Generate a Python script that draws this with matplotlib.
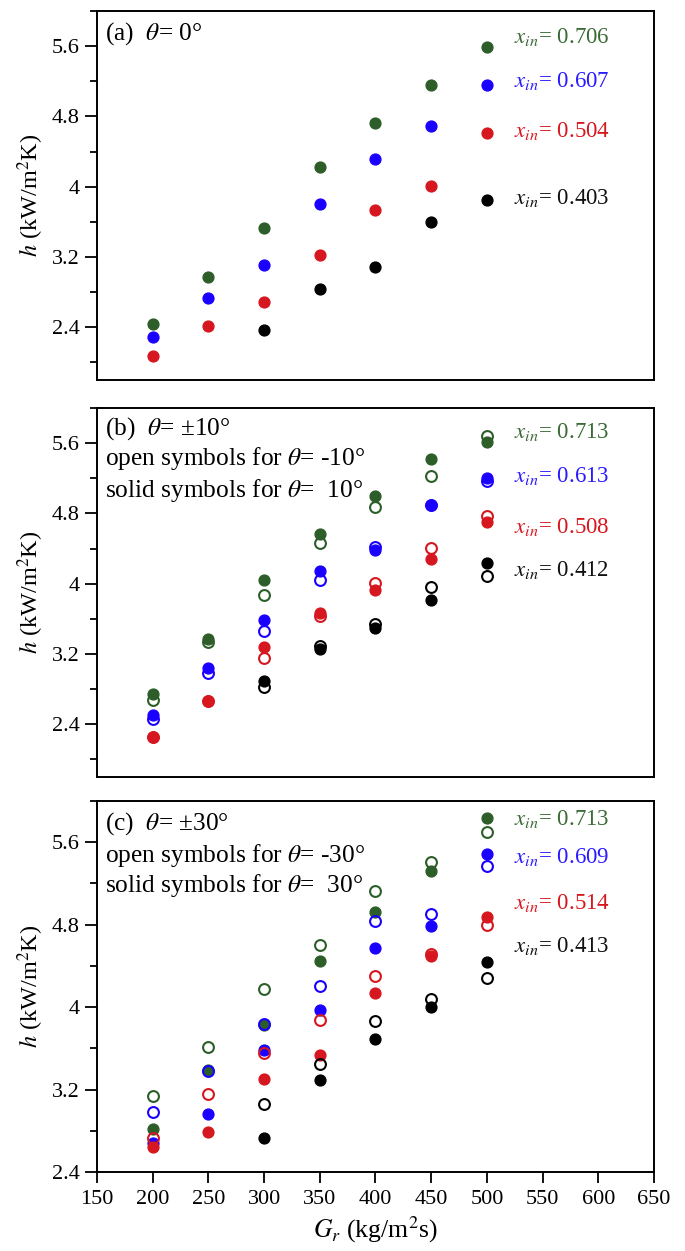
import numpy as np
import matplotlib
matplotlib.use('Agg')
import matplotlib.pyplot as plt
from matplotlib.ticker import MultipleLocator, FixedLocator, FixedFormatter

plt.rcParams['font.family'] = ['Liberation Serif', 'DejaVu Serif']
plt.rcParams['mathtext.fontset'] = 'stix'

nan = np.nan
G = [200, 250, 300, 350, 400, 450, 500]

# panel (a): theta = 0
a_h_0706 = [2.44, 2.97, 3.53, 4.22, 4.73, 5.16, 5.59]
a_h_0607 = [2.29, 2.73, 3.11, 3.80, 4.32, 4.69, 5.16]
a_h_0504 = [2.07, 2.42, 2.69, 3.22, 3.73, 4.01, 4.61]
a_h_0403 = [nan, nan, 2.37, 2.84, 3.09, 3.60, 3.85]

# panel (b): solid = +10 deg, open = -10 deg
b_solid_0713 = [2.75, 3.37, 4.04, 4.57, 5.00, 5.42, 5.61]
b_open_0713 = [2.68, 3.34, 3.87, 4.46, 4.87, 5.23, 5.68]
b_solid_0613 = [2.51, 3.04, 3.59, 4.15, 4.38, 4.89, 5.20]
b_open_0613 = [2.46, 2.98, 3.46, 4.04, 4.42, 4.90, 5.17]
b_solid_0508 = [2.25, 2.67, 3.28, 3.67, 3.93, 4.28, 4.70]
b_open_0508 = [2.26, 2.67, 3.15, 3.63, 4.01, 4.41, 4.77]
b_solid_0412 = [nan, nan, 2.89, 3.26, 3.49, 3.81, 4.24]
b_open_0412 = [nan, nan, 2.82, 3.29, 3.54, 3.96, 4.09]

# panel (c): solid = +30 deg, open = -30 deg
c_solid_0713 = [2.82, 3.39, 3.83, 4.45, 4.92, 5.32, 5.84]
c_open_0713 = [3.14, 3.61, 4.18, 4.60, 5.13, 5.41, 5.70]
c_solid_0609 = [2.68, 2.96, 3.58, 3.97, 4.57, 4.79, 5.49]
c_open_0609 = [2.98, 3.38, 3.84, 4.21, 4.84, 4.90, 5.37]
c_solid_0514 = [2.64, 2.79, 3.30, 3.54, 4.14, 4.50, 4.87]
c_open_0514 = [2.73, 3.16, 3.56, 3.88, 4.30, 4.52, 4.80]
c_solid_0413 = [nan, nan, 2.73, 3.29, 3.69, 4.00, 4.44]
c_open_0413 = [nan, nan, 3.06, 3.45, 3.87, 4.08, 4.28]

a_labels = ['0.706', '0.607', '0.504', '0.403']
b_labels = ['0.713', '0.613', '0.508', '0.412']
c_labels = ['0.713', '0.609', '0.514', '0.413']
a_label_y = [5.70, 5.20, 4.64, 3.87]
b_label_y = [5.73, 5.22, 4.65, 4.16]
c_label_y = [5.83, 5.46, 5.01, 4.59]

y_ticks = [2.4, 3.2, 4.0, 4.8, 5.6]
y_ticklabels = ['2.4', '3.2', '4', '4.8', '5.6']
x_ticks = [150, 200, 250, 300, 350, 400, 450, 500, 550, 600, 650]

colors = ['#2D5E29', '#1A00FF', '#D6171F', '#000000']
text_colors = ['#3A6B35', '#2A1AFF', '#D6171F', '#111111']

fig = plt.figure(figsize=(6.85, 12.51), dpi=100)
left, width = 0.1416, 0.8131
ax_a = fig.add_axes([left, 0.6962, width, 0.2950])
ax_b = fig.add_axes([left, 0.3789, width, 0.2950])
ax_c = fig.add_axes([left, 0.0631, width, 0.2966])

ms = 7.8
note_fs = 18.3


def style(ax, ylim, show_x):
    ax.set_xlim(150, 650)
    ax.set_ylim(*ylim)
    ax.yaxis.set_major_locator(FixedLocator(y_ticks))
    ax.yaxis.set_major_formatter(FixedFormatter(y_ticklabels))
    ax.yaxis.set_minor_locator(MultipleLocator(0.4))
    for s in ax.spines.values():
        s.set_linewidth(1.4)
    ax.tick_params(axis='y', which='major', direction='out', length=8.5, width=1.3,
                   labelsize=16, pad=4)
    ax.tick_params(axis='y', which='minor', direction='out', length=5, width=1.3)
    if show_x:
        ax.set_xticks(x_ticks)
        ax.tick_params(axis='x', which='major', direction='out', length=8, width=1.3,
                       labelsize=16, pad=5)
    else:
        ax.set_xticks([])
    ax.set_ylabel(r'$h$ (kW/m$^2$K)', fontsize=17.5)
    ax.yaxis.set_label_coords(-0.092, 0.5)


def series_labels(ax, labels, label_y):
    for lab, yy, c in zip(labels, label_y, text_colors):
        ax.text(524, yy, r'$x_{in}$= ' + lab, color=c, fontsize=16.5, va='center', ha='left')


# (a)
for h, c in zip([a_h_0706, a_h_0607, a_h_0504, a_h_0403], colors):
    ax_a.plot(G, h, 'o', color=c, ms=ms, mec=c)
style(ax_a, (1.8, 6.0), False)
series_labels(ax_a, a_labels, a_label_y)
ax_a.text(0.014, 0.94, r'(a)  $\theta$= 0°', transform=ax_a.transAxes, fontsize=note_fs, va='center')

# (b)
b_solid = [b_solid_0713, b_solid_0613, b_solid_0508, b_solid_0412]
b_open = [b_open_0713, b_open_0613, b_open_0508, b_open_0412]
for hs, ho, c in zip(b_solid, b_open, colors):
    ax_b.plot(G, hs, 'o', color=c, ms=ms, mec=c)
    ax_b.plot(G, ho, 'o', mfc='none', mec=c, ms=ms, mew=1.5)
style(ax_b, (1.8, 6.0), False)
series_labels(ax_b, b_labels, b_label_y)
ax_b.text(0.014, 0.944, r'(b)  $\theta$= ±10°', transform=ax_b.transAxes, fontsize=note_fs, va='center')
ax_b.text(0.014, 0.863, r'open symbols for $\theta$= -10°', transform=ax_b.transAxes, fontsize=note_fs, va='center')
ax_b.text(0.014, 0.777, r'solid symbols for $\theta$=  10°', transform=ax_b.transAxes, fontsize=note_fs, va='center')

# (c)
c_solid = [c_solid_0713, c_solid_0609, c_solid_0514, c_solid_0413]
c_open = [c_open_0713, c_open_0609, c_open_0514, c_open_0413]
for hs, ho, c in zip(c_solid, c_open, colors):
    ax_c.plot(G, hs, 'o', color=c, ms=ms, mec=c)
    ax_c.plot(G, ho, 'o', mfc='none', mec=c, ms=ms, mew=1.5)
style(ax_c, (2.4, 6.0), True)
series_labels(ax_c, c_labels, c_label_y)
ax_c.text(0.014, 0.94, r'(c)  $\theta$= ±30°', transform=ax_c.transAxes, fontsize=note_fs, va='center')
ax_c.text(0.014, 0.854, r'open symbols for $\theta$= -30°', transform=ax_c.transAxes, fontsize=note_fs, va='center')
ax_c.text(0.014, 0.772, r'solid symbols for $\theta$=  30°', transform=ax_c.transAxes, fontsize=note_fs, va='center')
ax_c.set_xlabel(r'$G_r$ (kg/m$^2$s)', fontsize=18.5, labelpad=4)

fig.savefig('out.png', dpi=100)
